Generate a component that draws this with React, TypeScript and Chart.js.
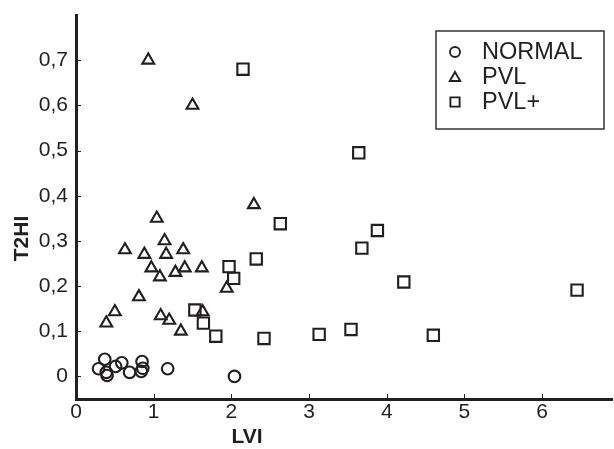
import React, { useEffect, useRef } from 'react';
import { Chart, registerables } from 'chart.js';

Chart.register(...registerables);

// ---- data ----
const seriesNames = ['NORMAL', 'PVL', 'PVL+'];

const normalLVI = [0.29, 0.37, 0.39, 0.40, 0.51, 0.59, 0.69, 0.85, 0.86, 0.84, 1.18, 2.04];
const normalT2HI = [0.017, 0.038, 0.009, 0.002, 0.022, 0.030, 0.009, 0.033, 0.018, 0.011, 0.017, 0.0];

const pvlLVI = [0.93, 1.50, 2.29, 1.04, 1.14, 0.63, 0.88, 1.16, 1.38, 0.97, 1.40, 1.28, 1.62, 1.08, 0.81, 0.50, 0.39, 1.09, 1.20, 1.35, 1.63, 1.94];
const pvlT2HI = [0.70, 0.60, 0.38, 0.35, 0.30, 0.28, 0.27, 0.27, 0.28, 0.24, 0.24, 0.23, 0.24, 0.22, 0.176, 0.143, 0.118, 0.134, 0.124, 0.10, 0.143, 0.195];

const pvlPlusLVI = [2.15, 3.64, 2.63, 3.88, 3.68, 2.32, 1.97, 2.03, 4.22, 6.45, 1.53, 1.64, 1.80, 2.42, 3.13, 3.54, 4.60];
const pvlPlusT2HI = [0.68, 0.495, 0.338, 0.323, 0.284, 0.26, 0.243, 0.217, 0.209, 0.191, 0.147, 0.118, 0.089, 0.084, 0.093, 0.104, 0.091];

const xTicks = [0, 1, 2, 3, 4, 5, 6];
const xTickLabels = ['0', '1', '2', '3', '4', '5', '6'];
const yTicks = [0, 0.1, 0.2, 0.3, 0.4, 0.5, 0.6, 0.7];
const yTickLabels = ['0', '0,1', '0,2', '0,3', '0,4', '0,5', '0,6', '0,7'];

const xTitle = 'LVI';
const yTitle = 'T2HI';

// ---- style ----
const INK = '#231f20';
const FONT = "'Liberation Sans', Arial, Helvetica, sans-serif";

const toPoints = (xs: number[], ys: number[]) => xs.map((x, i) => ({ x, y: ys[i] }));

function drawMarker(ctx: CanvasRenderingContext2D, style: string, x: number, y: number, r: number) {
  ctx.beginPath();
  if (style === 'circle') {
    ctx.arc(x, y, r, 0, Math.PI * 2);
  } else if (style === 'triangle') {
    for (let k = 0; k < 3; k++) {
      const a = (k * 2 * Math.PI) / 3;
      const px = x + Math.sin(a) * r;
      const py = y - Math.cos(a) * r;
      if (k === 0) ctx.moveTo(px, py);
      else ctx.lineTo(px, py);
    }
    ctx.closePath();
  } else {
    const s = r / Math.SQRT2;
    ctx.rect(x - s, y - s, 2 * s, 2 * s);
  }
  ctx.stroke();
}

const decorPlugin = {
  id: 'decor',
  afterDraw(chart: any) {
    const { ctx, chartArea } = chart;
    const xs = chart.scales.x;
    const ys = chart.scales.y;
    ctx.save();
    // inside tick marks
    ctx.strokeStyle = INK;
    ctx.lineWidth = 1;
    xTicks.forEach((v) => {
      const px = Math.round(xs.getPixelForValue(v)) + 0.5;
      ctx.beginPath();
      ctx.moveTo(px, chartArea.bottom);
      ctx.lineTo(px, chartArea.bottom - 5);
      ctx.stroke();
    });
    yTicks.forEach((v) => {
      const py = Math.round(ys.getPixelForValue(v)) + 0.5;
      ctx.beginPath();
      ctx.moveTo(chartArea.left, py);
      ctx.lineTo(chartArea.left + 5, py);
      ctx.stroke();
    });

    // axis titles
    ctx.fillStyle = INK;
    ctx.font = `bold 21px ${FONT}`;
    ctx.textAlign = 'center';
    ctx.textBaseline = 'middle';
    ctx.fillText(xTitle, chartArea.left + 0.319 * (chartArea.right - chartArea.left), 437);
    ctx.save();
    ctx.translate(22, chartArea.top + 0.582 * (chartArea.bottom - chartArea.top));
    ctx.rotate(-Math.PI / 2);
    ctx.fillText(yTitle, 0, 0);
    ctx.restore();

    // legend
    const boxW = 168;
    const boxH = 98;
    const boxL = chartArea.right - 8 - boxW;
    const boxT = chartArea.top + 16;
    ctx.lineWidth = 1.5;
    ctx.strokeStyle = '#333';
    ctx.strokeRect(boxL, boxT, boxW, boxH);
    const styles = ['circle', 'triangle', 'rect'];
    const radii = [5, 6, 6.5];
    ctx.font = `23.5px ${FONT}`;
    ctx.textAlign = 'left';
    ctx.textBaseline = 'middle';
    seriesNames.forEach((name, i) => {
      const cy = boxT + 21 + i * 25;
      ctx.strokeStyle = INK;
      ctx.lineWidth = 1.9;
      drawMarker(ctx, styles[i], boxL + 19, cy + (i === 1 ? 1 : 0), radii[i]);
      ctx.fillStyle = INK;
      ctx.fillText(name, boxL + 46, cy + 1);
    });
    ctx.restore();
  },
};

export default function App() {
  const ref = useRef<HTMLCanvasElement | null>(null);

  useEffect(() => {
    if (!ref.current) return;
    const common = {
      backgroundColor: 'rgba(0,0,0,0)',
      borderColor: INK,
      pointBackgroundColor: 'rgba(0,0,0,0)',
      pointBorderColor: INK,
      pointBorderWidth: 2.1,
      showLine: false,
    };
    const chart = new Chart(ref.current, {
      type: 'scatter',
      data: {
        datasets: [
          { ...common, label: seriesNames[0], data: toPoints(normalLVI, normalT2HI), pointStyle: 'circle', pointRadius: 5.8 },
          { ...common, label: seriesNames[1], data: toPoints(pvlLVI, pvlT2HI), pointStyle: 'triangle', pointRadius: 6.8 },
          { ...common, label: seriesNames[2], data: toPoints(pvlPlusLVI, pvlPlusT2HI), pointStyle: 'rect', pointRadius: 8 },
        ],
      },
      options: {
        responsive: false,
        animation: false,
        events: [],
        layout: { autoPadding: false, padding: { top: 15, right: 2, left: 0, bottom: 0 } },
        plugins: {
          legend: { display: false },
          tooltip: { enabled: false },
        },
        scales: {
          x: {
            type: 'linear',
            min: 0,
            max: 6.9,
            afterFit: (s: any) => { s.height = 50; s.paddingLeft = 0; s.paddingRight = 0; },
            afterBuildTicks: (s: any) => { s.ticks = xTicks.map((v) => ({ value: v })); },
            grid: { display: false, drawTicks: false },
            border: { display: true, width: 3, color: INK },
            ticks: {
              padding: 1,
              color: INK,
              font: { family: FONT, size: 21 },
              maxRotation: 0,
              callback: (v: any) => xTickLabels[xTicks.indexOf(Number(v))] ?? '',
            },
          },
          y: {
            type: 'linear',
            min: -0.05,
            max: 0.8,
            afterFit: (s: any) => { s.width = 76; s.paddingTop = 0; s.paddingBottom = 0; },
            afterBuildTicks: (s: any) => { s.ticks = yTicks.map((v) => ({ value: v })); },
            grid: { display: false, drawTicks: false },
            border: { display: true, width: 3, color: INK },
            ticks: {
              padding: 8,
              color: INK,
              font: { family: FONT, size: 21 },
              callback: (v: any) => {
                const i = yTicks.findIndex((t) => Math.abs(t - Number(v)) < 1e-9);
                return i >= 0 ? yTickLabels[i] : '';
              },
            },
          },
        },
      },
      plugins: [decorPlugin],
    });
    return () => chart.destroy();
  }, []);

  return (
    <div style={{ position: 'fixed', left: 0, top: 0, width: 614, height: 449, background: '#fff' }}>
      <canvas ref={ref} width={614} height={449} style={{ display: 'block', width: 614, height: 449 }} />
    </div>
  );
}
